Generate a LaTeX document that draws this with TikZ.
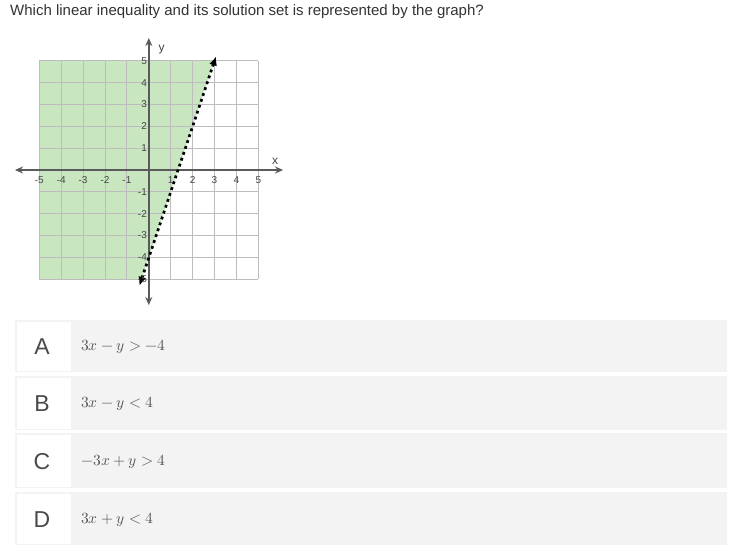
\documentclass[tikz,border=0pt]{standalone}
\usepackage{fontspec}
\usepackage{unicode-math}
\setmainfont{Liberation Sans}
\setmathfont{Latin Modern Math}
\usetikzlibrary{arrows.meta}
\definecolor{shadegreen}{HTML}{C8E7C1}
\definecolor{gridgray}{HTML}{BDBDBD}
\definecolor{axisgray}{HTML}{5A5A5A}
\definecolor{titlecol}{HTML}{333333}
\definecolor{rowgray}{HTML}{F3F3F3}
\definecolor{lettercol}{HTML}{4A4A4A}
\definecolor{mathcol}{HTML}{555555}
\definecolor{labelcol}{HTML}{444444}
\tikzset{
  axisline/.style={draw=axisgray, line width=1.8pt, {Stealth[length=8pt,width=7pt]}-{Stealth[length=8pt,width=7pt]}},
  boundary/.style={draw=black, line width=2.7pt, dash pattern=on 2.8pt off 3.4pt, {Latex[length=9pt,width=8pt]}-{Latex[length=9pt,width=8pt]}},
  ticklab/.style={font=\fontsize{10}{11}\selectfont, text=labelcol, inner sep=0pt},
  axlab/.style={font=\fontsize{12}{13}\selectfont, text=labelcol, inner sep=0pt},
  rowbox/.style={fill=rowgray},
  lettercell/.style={fill=white},
  letterlab/.style={font=\fontsize{23}{25}\selectfont, text=lettercol, inner sep=0pt},
  mathlab/.style={font=\fontsize{15.5}{17}\selectfont, text=mathcol, anchor=west, inner sep=0pt}
}
\begin{document}
\begin{tikzpicture}[x=1pt,y=-1pt]
\useasboundingbox (0,0) rectangle (750,556);
\fill[white] (0,0) rectangle (750,556);
\node[anchor=west, font=\fontsize{15}{18}\selectfont, text=titlecol, inner sep=0pt] (title) at (10,12) {Which linear inequality and its solution set is represented by the graph?};

\begin{scope}[shift={(148.8pt,-170pt)}, x=21.9pt, y=21.85pt]
  \fill[shadegreen] (-5,-5) -- (-1/3,-5) -- (3,5) -- (-5,5) -- cycle;
  \draw[gridgray, line width=0.9pt, xstep=1, ystep=1] (-5,-5) grid (5,5);
  \coordinate (xl) at (-6.11,0);
  \coordinate (xr) at (6.13,0);
  \coordinate (yt) at (0,6.04);
  \coordinate (yb) at (0,-6.18);
  \draw[axisline] (xl) -- (xr);
  \draw[axisline] (yb) -- (yt);
  \coordinate (lb) at (-0.43,-5.3);
  \coordinate (lt) at (3.07,5.2);
  \draw[boundary] (lb) -- (lt);
  \foreach \k in {-5,-4,-3,-2,-1,1,2,3,4,5} {
    \node[ticklab] (xt\k) at (\k,-0.47) {\k};
  }
  \foreach \k in {-5,-4,-3,-2,-1,1,2,3,4,5} {
    \node[ticklab, anchor=east] (yt\k) at (-0.08,\k) {\k};
  }
  \node[axlab] (xlab) at (5.77,0.41) {x};
  \node[axlab] (ylab) at (0.59,5.49) {y};
\end{scope}

% answer rows
\foreach \n/\top/\bot/\lab/\eq in {A/320/372/A/{$3x-y>-4$}, B/376/430/B/{$3x-y<4$}, C/433/488/C/{$-3x+y>4$}, D/492/545/D/{$3x+y<4$}} {
  \fill[rowbox] (15,\top) rectangle (727,\bot);
  \fill[lettercell] (16.5,\top+1.5) rectangle (71,\bot-1.5);
  \node[letterlab] (let\n) at (42,{(\top+\bot)/2+1}) {\lab};
  \node[mathlab] (eq\n) at (81,{(\top+\bot)/2+1}) {\eq};
}
\end{tikzpicture}
\end{document}
